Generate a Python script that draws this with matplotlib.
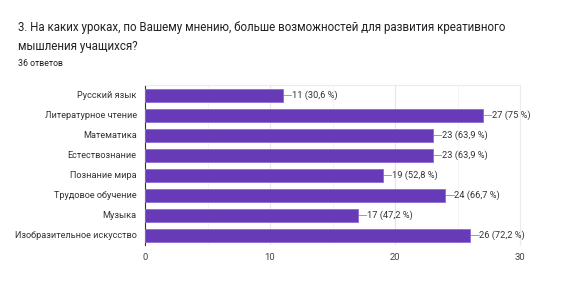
import matplotlib
matplotlib.use("Agg")
import matplotlib.pyplot as plt

plt.rcParams['font.family'] = ['Roboto', 'DejaVu Sans']

categories = ["Русский язык", "Литературное чтение", "Математика", "Естествознание",
              "Познание мира", "Трудовое обучение", "Музыка", "Изобразительное искусство"]
values = [11, 27, 23, 23, 19, 24, 17, 26]
labels = ["11 (30,6 %)", "27 (75 %)", "23 (63,9 %)", "23 (63,9 %)",
          "19 (52,8 %)", "24 (66,7 %)", "17 (47,2 %)", "26 (72,2 %)"]
xticks = [0, 10, 20, 30]

fig = plt.figure(figsize=(5.79, 2.95), dpi=100)
fig.text(18/579, 1-28/295, "3. На каких уроках, по Вашему мнению, больше возможностей для развития креативного",
         fontsize=8.3, color='#202124', va='center', ha='left')
fig.text(18/579, 1-47/295, "мышления учащихся?", fontsize=8.3, color='#202124', va='center', ha='left')
fig.text(18/579, 1-63/295, "36 ответов", fontsize=6.3, color='#202124', va='center', ha='left')

ax = fig.add_axes([145/579, 1-245/295, (520-145)/579, (245-85)/295])
y = list(range(len(categories)))
ax.barh(y, values, height=0.65, color='#673ab7', edgecolor='#8e6cd0', linewidth=0.6, zorder=3)
for yi, v, lab in zip(y, values, labels):
    ax.plot([v, v + 0.7], [yi, yi], color='#9e9e9e', linewidth=0.7, zorder=2, clip_on=False)
    ax.text(v + 0.75, yi, lab, va='center', ha='left', fontsize=6.7, color='#333333', clip_on=False)

ax.set_xlim(0, 30)
ax.set_ylim(len(categories) - 0.5, -0.5)
ax.set_yticks(y)
ax.set_yticklabels(categories, fontsize=6.6, color='#333333')
ax.set_xticks(xticks)
ax.set_xticklabels([str(t) for t in xticks], fontsize=6.8, color='#444444')
ax.set_xticks([5, 15, 25], minor=True)
ax.grid(axis='x', which='major', color='#e6e6e6', linewidth=0.8, zorder=0)
ax.grid(axis='x', which='minor', color='#f3f3f3', linewidth=0.6, zorder=0)
ax.tick_params(axis='both', length=0, pad=6)
ax.tick_params(axis='x', which='minor', length=0)
for s in ['top', 'right']:
    ax.spines[s].set_color('#ececec')
    ax.spines[s].set_linewidth(0.8)
ax.spines['bottom'].set_visible(False)
ax.spines['left'].set_color('#333333')
ax.spines['left'].set_linewidth(0.8)

fig.savefig("out.png", dpi=100)
